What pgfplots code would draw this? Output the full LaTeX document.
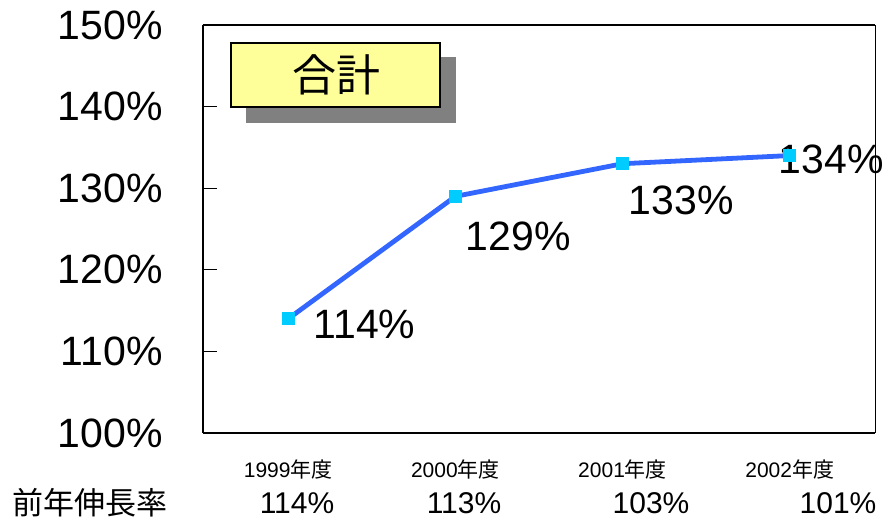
\documentclass[border=0pt]{standalone}
\usepackage{pgfplots}
\pgfplotsset{compat=1.18}
\usepackage{fontspec}
\setmainfont{Liberation Sans}
\newfontfamily\cjk{Noto Sans CJK JP}
\definecolor{lineblue}{HTML}{3366FF}
\definecolor{markcyan}{HTML}{00CCFF}
\definecolor{boxyellow}{HTML}{FFFF99}
\definecolor{shadowgray}{HTML}{808080}

\begin{document}
\begin{tikzpicture}
\useasboundingbox (0,0) rectangle (884pt,521pt);
\begin{axis}[
    at={(203pt,88pt)}, anchor=south west,
    scale only axis,
    width=672pt, height=408pt,
    xmin=-0.51, xmax=3.51,
    ymin=100, ymax=150,
    axis lines*=left,
    axis line style={line width=2pt,-},
    clip=false,
    tick align=inside,
    ytick={100,110,...,150},
    yticklabels={100\%,110\%,120\%,130\%,140\%,150\%},
    yticklabel style={anchor=east, inner sep=0pt, xshift=-40pt,
        font=\fontsize{41}{41}\selectfont},
    ytick style={line width=1.3pt, black},
    major tick length=14pt,
    xtick={0,1,2,3},
    xticklabels={1999{\cjk 年度},2000{\cjk 年度},2001{\cjk 年度},2002{\cjk 年度}},
    xticklabel style={anchor=center, inner sep=0pt, yshift=-37pt,
        font=\fontsize{21}{21}\selectfont},
    xtick style={draw=none},
    extra x ticks={0.5,1.5,2.5},
    extra x tick labels={},
    extra x tick style={major tick length=12pt,
        tick style={draw=black, line width=1.3pt}},
]
% growth vs. base year
\addplot[lineblue, line width=4.8pt, mark=square*,
    mark size=6pt, mark options={markcyan, draw=markcyan, line width=0pt}]
coordinates {
    (0,114)
    (1,129)
    (2,133)
    (3,134)
};

\draw[line width=2pt] (rel axis cs:0,1) -- (rel axis cs:1,1);
\draw[line width=1pt] (rel axis cs:1,0) -- (rel axis cs:1,1);

\begin{scope}[every node/.style={font=\fontsize{41}{41}\selectfont, inner sep=0pt, anchor=west}]
\node at (axis cs:0,114) [xshift=25pt, yshift=-6pt] {114\%};
\node at (axis cs:1,129) [xshift=10pt, yshift=-40pt] {129\%};
\node at (axis cs:2,133) [xshift=6pt, yshift=-37pt] {133\%};
\node at (axis cs:3,134) [xshift=-11pt, yshift=-4pt] {134\%};
\end{scope}
\end{axis}

% title box with shadow
\fill[shadowgray] (246pt,398pt) rectangle (456pt,464pt);
\draw[boxyellow, fill=boxyellow] (231pt,414pt) rectangle (440pt,478pt);
\draw[black, line width=1.5pt] (231pt,414pt) rectangle (440pt,478pt);
\node[font=\fontsize{44}{44}\selectfont\cjk, inner sep=0pt] at (336pt,446pt) {合計};

% year-on-year row
\node[font=\fontsize{31}{31}\selectfont\cjk, anchor=west, inner sep=0pt] at (12pt,18pt) {前年伸長率};
\begin{scope}[every node/.style={font=\fontsize{30}{30}\selectfont, inner sep=0pt}]
\node at (297pt,18pt) {114\%};
\node at (464pt,18pt) {113\%};
\node at (651pt,18pt) {103\%};
\node at (838pt,18pt) {101\%};
\end{scope}
\end{tikzpicture}
\end{document}
